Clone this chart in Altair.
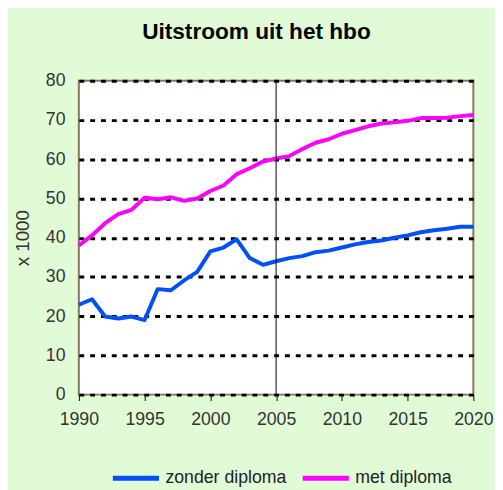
import altair as alt
import pandas as pd

years = list(range(1990, 2021))
zonder = [22.9, 24.3, 19.9, 19.4, 19.9, 19.0, 26.9, 26.6, 29.1, 31.3, 36.5, 37.5, 39.6, 34.8, 33.1, 34.0,
          34.8, 35.3, 36.3, 36.7, 37.5, 38.3, 38.9, 39.3, 40.0, 40.6, 41.4, 41.9, 42.3, 42.8, 42.8]
met = [38.0, 40.6, 43.7, 46.0, 47.1, 50.2, 49.8, 50.3, 49.4, 50.0, 51.9, 53.3, 56.2, 57.7, 59.4, 60.2,
       60.8, 62.6, 64.2, 65.1, 66.5, 67.4, 68.4, 69.1, 69.4, 69.8, 70.5, 70.5, 70.6, 71.0, 71.3]
series_names = ["zonder diploma", "met diploma"]
series_colors = ["#0050f5", "#ff00ff"]
x_ticks = [1990, 1995, 2000, 2005, 2010, 2015, 2020]
y_ticks = [0, 10, 20, 30, 40, 50, 60, 70, 80]
cross_year = 2005

df = pd.DataFrame({
    "jaar": years * 2,
    "waarde": zonder + met,
    "reeks": [series_names[0]] * len(years) + [series_names[1]] * len(years),
})

FONT = "Liberation Sans"

x_scale = alt.Scale(domain=[1990, 2020], nice=False, zero=False)
y_scale = alt.Scale(domain=[0, 80], nice=False)

x_axis = alt.Axis(values=x_ticks, format="d", grid=False, domain=False,
                  tickColor="black", tickSize=6, tickWidth=1, labelFlush=False,
                  labelFontSize=18, labelColor="#333333", labelPadding=10,
                  labelFont=FONT)
y_axis = alt.Axis(values=y_ticks, grid=True, gridColor="black", gridWidth=3,
                  gridDash=[5, 6], domain=False, ticks=False,
                  labelFontSize=18, labelColor="#333333", labelPadding=14,
                  labelFont=FONT, titleFont=FONT, titleFontSize=19,
                  titleFontWeight="normal", titleColor="#333333",
                  titleX=-57, titleY=159.5, titleAngle=270,
                  titleAlign="center", titleBaseline="middle")

lines = alt.Chart(df).mark_line(strokeWidth=4, strokeJoin="round").encode(
    x=alt.X("jaar:Q", scale=x_scale, title=None, axis=x_axis),
    y=alt.Y("waarde:Q", scale=y_scale, title="x 1000", axis=y_axis),
    color=alt.Color("reeks:N", scale=alt.Scale(domain=series_names, range=series_colors),
                    sort=series_names,
                    legend=alt.Legend(title=None, orient="none", direction="horizontal",
                                      legendX=32, legendY=378, symbolType="stroke",
                                      symbolSize=2200, symbolStrokeWidth=5,
                                      labelFontSize=18, labelColor="#222222",
                                      labelFont=FONT, labelOffset=4, columnPadding=5,
                                      padding=0)),
)

vline = alt.Chart(pd.DataFrame({"jaar": [cross_year]})).mark_rule(color="black", strokeWidth=1).encode(
    x=alt.X("jaar:Q", scale=x_scale, title=None, axis=x_axis)
)

vticks = alt.Chart(pd.DataFrame({"jaar": [cross_year] * len(y_ticks), "eind": [cross_year + 0.2] * len(y_ticks),
                                 "waarde": y_ticks})).mark_rule(color="black", strokeWidth=1).encode(
    x=alt.X("jaar:Q", scale=x_scale, title=None, axis=x_axis),
    x2="eind:Q",
    y=alt.Y("waarde:Q", scale=y_scale, title="x 1000", axis=y_axis),
)

chart = alt.layer(lines, vline, vticks).properties(
    width=401,
    height=319,
    title=alt.Title("Uitstroom uit het hbo", fontSize=23, fontWeight="bold", font=FONT,
                    color="black", anchor="middle", dx=-20, offset=28),
    autosize=alt.AutoSizeParams(type="none"),
    padding={"left": 72, "top": 70, "right": 22, "bottom": 96},
    background="#e1fbd7",
).configure_view(
    fill="white", stroke="#857760", strokeWidth=2
)

chart.save("out.html", embed_options={"renderer": "svg", "actions": False})
